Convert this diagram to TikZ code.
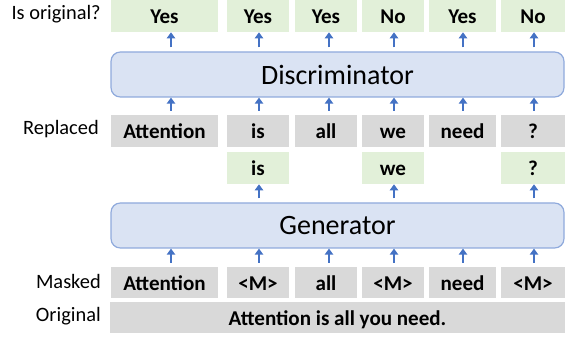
\documentclass[tikz,border=0pt]{standalone}
\usepackage{fontspec}
\setmainfont{Carlito}
\usetikzlibrary{arrows.meta,calc}
\definecolor{gbox}{HTML}{E2F0D9}
\definecolor{gray}{HTML}{D9D9D9}
\definecolor{bfill}{HTML}{DAE3F3}
\definecolor{bdraw}{HTML}{8FAADC}
\definecolor{arrowblue}{HTML}{4472C4}
% \cellat{style}{x1}{y1}{x2}{y2}{name}{text}
\newcommand{\cellat}[7]{\node[#1, minimum width={(#4-#2)*0.75pt}, minimum height={(#5-#3)*0.75pt}] (#6) at ({(#2+#4)/2},{(#3+#5)/2}) {#7};}
\begin{document}
\begin{tikzpicture}[x=0.75pt,y=-0.75pt,
  cell/.style={inner sep=0pt, text height=12.4pt, text depth=0.8pt, font=\fontsize{15.8}{18}\selectfont\bfseries},
  yes/.style={cell, fill=gbox},
  tok/.style={cell, fill=gray},
  model/.style={inner sep=0pt, fill=bfill, draw=bdraw, line width=0.9pt, rounded corners=7pt, font=\fontsize{21}{24}\selectfont},
  rowlab/.style={anchor=east, inner sep=0pt, font=\fontsize{15.3}{18}\selectfont},
  arr/.style={draw=arrowblue, line width=1.5pt, -{Triangle[width=6.3pt,length=4.6pt]}, shorten <=3pt}
]
\useasboundingbox (0,0) rectangle (565,338);
% column arrow x positions
\coordinate (a1) at (171,0);
\coordinate (a2) at (259,0);
\coordinate (a3) at (329,0);
\coordinate (a4) at (394,0);
\coordinate (a5) at (463,0);
\coordinate (a6) at (534,0);

% Is original row
\cellat{yes}{111}{-1}{218}{32}{o1}{Yes}
\cellat{yes}{227}{-1}{289}{32}{o2}{Yes}
\cellat{yes}{295}{-1}{357}{32}{o3}{Yes}
\cellat{yes}{362}{-1}{424}{32}{o4}{No}
\cellat{yes}{429}{-1}{496}{32}{o5}{Yes}
\cellat{yes}{501}{-1}{565}{32}{o6}{No}

% Discriminator
\cellat{model}{111}{52}{564}{97}{disc}{Discriminator}

% Replaced row
\cellat{tok}{111}{115}{218}{147}{r1}{Attention}
\cellat{tok}{227}{115}{289}{147}{r2}{is}
\cellat{tok}{295}{115}{357}{147}{r3}{all}
\cellat{tok}{362}{115}{424}{147}{r4}{we}
\cellat{tok}{429}{115}{496}{147}{r5}{need}
\cellat{tok}{501}{115}{565}{147}{r6}{?}

% Generator outputs
\cellat{yes}{227}{152}{289}{184}{g2}{is}
\cellat{yes}{362}{152}{424}{184}{g4}{we}
\cellat{yes}{501}{152}{565}{184}{g6}{?}

% Generator
\cellat{model}{111}{203}{564}{248}{gen}{Generator}

% Masked row
\cellat{tok}{111}{267}{218}{298}{m1}{Attention}
\cellat{tok}{227}{267}{289}{298}{m2}{<M>}
\cellat{tok}{295}{267}{357}{298}{m3}{all}
\cellat{tok}{362}{267}{424}{298}{m4}{<M>}
\cellat{tok}{429}{267}{496}{298}{m5}{need}
\cellat{tok}{501}{267}{565}{298}{m6}{<M>}

% Original row
\cellat{tok}{110}{302}{565}{333}{orig}{Attention is all you need.}

% Row labels
\node[rowlab] (lo) at (101,14) {Is original?};
\node[rowlab] (lr) at (99,129) {Replaced};
\node[rowlab] (lm) at (101,281) {Masked};
\node[rowlab] (lg) at (101,316) {Original};

% Arrows
\foreach \i in {1,...,6} {
  \draw[arr] (disc.north -| a\i) -- (o\i.south -| a\i);
  \draw[arr] (r\i.north -| a\i) -- (disc.south -| a\i);
  \draw[arr] (m\i.north -| a\i) -- (gen.south -| a\i);
}
\foreach \i in {2,4,6} {
  \draw[arr] (gen.north -| a\i) -- (g\i.south -| a\i);
}
\end{tikzpicture}
\end{document}
